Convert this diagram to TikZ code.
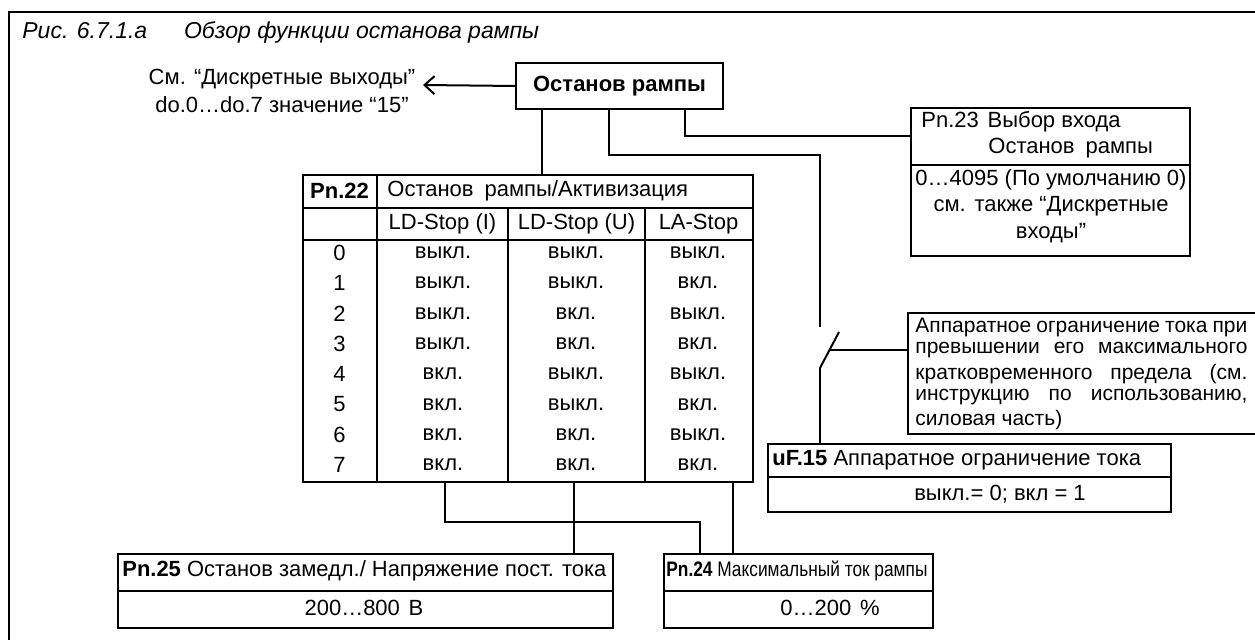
\documentclass[tikz,border=0pt]{standalone}
\usepackage{fontspec}
\setmainfont{Liberation Sans}
\usetikzlibrary{arrows.meta}
\begin{document}
\begin{tikzpicture}[x=0.5pt,y=-0.5pt,
  box/.style={draw, line width=1pt, inner sep=0pt, anchor=north west},
  conn/.style={line width=1pt},
  txt/.style={inner sep=0pt, font=\fontsize{11}{13.2}\selectfont},
  lt/.style={txt, anchor=west},
  nt/.style={lt, font=\fontsize{10.5}{12.6}\selectfont},
]
\useasboundingbox (0,0) rectangle (1255,640);
% frame
\draw[line width=1.2pt] (9,650) -- (9,12) -- (1265,12);
\node[lt, font=\fontsize{11.5}{13.8}\selectfont\itshape] (title) at (22,32) {Рис. 6.7.1.a\hspace{1.6em}Обзор функции останова рампы};

% top box
\node[box, minimum width=103.5pt, minimum height=23pt, txt] (stop) at (515,62) {\textbf{Останов рампы}};
\node[txt, align=center] (see) at (282,91) {См. “Дискретные выходы”\\[1pt]do.0…do.7 значение “15”};
\coordinate (arrend) at (423,85);
\draw[conn, -{Straight Barb[length=5pt,width=9pt,line width=1pt]}] (stop.west) -- (arrend);

% Pn.23
\node[box, minimum width=139.5pt, minimum height=28.5pt] (p23h) at (910,107) {};
\node[box, minimum width=139.5pt, minimum height=45.5pt] (p23b) at (910,164) {};
\node[lt] (p23t1) at (921,122) {Pn.23\hspace{0.4em}Выбор входа};
\node[lt] (p23t2) at (988,148) {Останов\hspace{0.5em}рампы};
\node[txt, align=center] (p23t3) at (1051,206) {0…4095 (По умолчанию 0)\\[0pt]см.\hspace{0.4em}также “Дискретные\\[0pt]входы”};

% table
\node[box, minimum width=225pt, minimum height=153.5pt] (tbl) at (302,174) {};
\draw[conn] (302,208) -- (752,208);
\draw[conn] (302,240) -- (752,240);
\draw[conn] (377,174) -- (377,481);
\draw[conn] (508,208) -- (508,481);
\draw[conn] (645,208) -- (645,481);
\node[txt] (h0) at (339.5,191) {\textbf{Pn.22}};
\node[lt] (h1) at (387,191) {Останов\hspace{0.5em}рампы/Активизация};
\node[txt] (h2) at (442.5,224) {LD-Stop (I)};
\node[txt] (h3) at (576.5,224) {LD-Stop (U)};
\node[txt] (h4) at (698.5,224) {LA-Stop};
\foreach \i/\a/\b/\c in {0/выкл./выкл./выкл., 1/выкл./выкл./вкл., 2/выкл./вкл./выкл., 3/выкл./вкл./вкл., 4/вкл./выкл./выкл., 5/вкл./выкл./вкл., 6/вкл./вкл./выкл., 7/вкл./вкл./вкл.}{
  \pgfmathsetmacro\yy{253+30.3*\i}
  \node[txt] (n\i) at (339.5,\yy) {\i};
  \node[txt] (a\i) at (443,\yy) {\a};
  \node[txt] (b\i) at (576,\yy) {\b};
  \node[txt] (c\i) at (698,\yy) {\c};
}

% connectors from top box
\coordinate (x1) at (542,0);
\coordinate (x2) at (609,0);
\coordinate (x3) at (685,0);
\coordinate (sw1) at (820,327);
\coordinate (sw2) at (820,368);
\coordinate (sw3) at (839,332);
\coordinate (swm) at (830,350);
\draw[conn] (stop.south -| x1) -- (tbl.north -| x1);
\draw[conn] (stop.south -| x2) |- (820,155) -- (sw1);
\draw[conn] (stop.south -| x3) |- (p23h.west);

% switch and note
\node[box, minimum width=181.5pt, minimum height=60.5pt] (note) at (907,312) {};
\draw[conn] (sw2) -- (sw3);
\draw[conn] (swm) -- (swm -| note.west);
\node[nt] (nt1) at (915,327) {\makebox[166pt][s]{Аппаратное ограничение тока при}};
\node[nt] (nt2) at (915,350) {\makebox[166pt][s]{превышении его максимального}};
\node[nt] (nt3) at (915,374) {\makebox[166pt][s]{кратковременного предела (см.}};
\node[nt] (nt4) at (915,397) {\makebox[166pt][s]{инструкцию по использованию,}};
\node[nt] (nt5) at (915,420) {силовая часть)};

% uF.15
\node[box, minimum width=201.5pt, minimum height=16.5pt] (ufh) at (767,443) {};
\node[box, minimum width=201.5pt, minimum height=17.5pt] (ufb) at (767,476) {};
\node[lt] (uft1) at (772,460) {\textbf{uF.15} Аппаратное ограничение тока};
\node[txt] (uft2) at (1000,494) {выкл.= 0; вкл = 1};
\draw[conn] (sw2) -- (ufh.north -| sw2);

% Pn.25 and Pn.24
\node[box, minimum width=247.5pt, minimum height=18.5pt] (p25h) at (117,553) {};
\node[box, minimum width=247.5pt, minimum height=18.5pt] (p25b) at (117,590) {};
\node[lt] (p25t1) at (122,571) {\resizebox{242pt}{\height}{\textbf{Pn.25} Останов замедл./ Напряжение пост. тока}};
\node[txt] (p25t2) at (364,608) {200…800\hspace{0.4em}В};
\node[box, minimum width=134.5pt, minimum height=18.5pt] (p24h) at (663,553) {};
\node[box, minimum width=134.5pt, minimum height=18.5pt] (p24b) at (663,590) {};
\node[lt, font=\fontsize{10.5}{12.6}\selectfont] (p24t1) at (666,571) {\resizebox{130.5pt}{\height}{\textbf{Pn.24} Максимальный ток рампы}};
\node[txt] (p24t2) at (830,608) {0…200\hspace{0.4em}\%};

\coordinate (y1) at (0,522);
\coordinate (xa) at (445,0);
\coordinate (xb) at (574,0);
\coordinate (xc) at (700,0);
\coordinate (xd) at (733,0);
\draw[conn] (tbl.south -| xa) -- (xa |- y1) -- (xc |- y1) -- (p24h.north -| xc);
\draw[conn] (tbl.south -| xb) -- (p25h.north -| xb);
\draw[conn] (tbl.south -| xd) -- (p24h.north -| xd);
\end{tikzpicture}
\end{document}
